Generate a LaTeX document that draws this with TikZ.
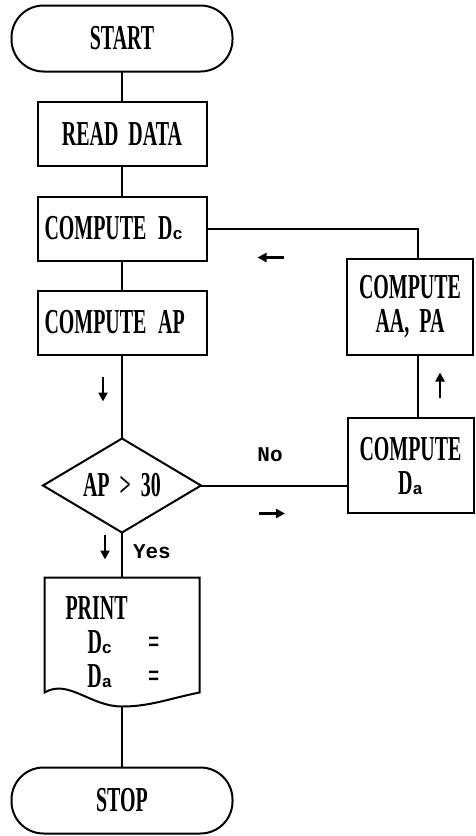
\documentclass[tikz,border=0pt]{standalone}
\usepackage{fontspec}
\newfontfamily\chartfont{Liberation Serif}[FakeStretch=0.57, WordSpace=2]
\newfontfamily\tagfont{Liberation Mono}
\usetikzlibrary{positioning, arrows.meta, calc, shapes.geometric}
\newcommand\boxfont{\chartfont\bfseries\fontsize{35}{34}\selectfont}
\newcommand\lowsub[1]{{\tagfont\bfseries\fontsize{17}{17}\selectfont #1}}

\begin{document}
\begin{tikzpicture}[x=1pt, y=-1pt,
  every node/.style={outer sep=0pt},
  terminal/.style={draw, line width=2pt, rounded corners=32pt, minimum width=221pt,
                   minimum height=66pt, font=\boxfont},
  procbox/.style={draw, line width=2pt, minimum width=169pt, minimum height=64pt, font=\boxfont},
  leftbox/.style={procbox, text width=155pt, inner xsep=7pt, align=left},
  sidebox/.style={draw, line width=2pt, minimum width=126pt, minimum height=96pt,
                  align=center, font=\boxfont},
  decision/.style={draw, line width=2pt, diamond, aspect=1.68, minimum width=158pt,
                   minimum height=94pt, inner sep=0pt, font=\boxfont},
  docbox/.style={minimum width=155pt, minimum height=129pt, inner xsep=21pt,
                 text width=113pt, align=left, font=\boxfont},
  line/.style={line width=2pt},
  flowmark/.style={-{Triangle[length=9pt, width=9pt]}, line width=2.6pt},
  tag/.style={font=\tagfont\bfseries\fontsize{21}{21}\selectfont, inner sep=0pt}
]
  \useasboundingbox (0,0) rectangle (475,836);

  % main column
  \node[terminal] (start) at (122,38.5) {START};
  \node[procbox, below=30pt of start] (read) {READ DATA};
  \node[leftbox, below=31pt of read] (dc) {COMPUTE D\lowsub{c}};
  \node[leftbox, below=30pt of dc] (ap) {COMPUTE AP};
  \node[decision, below=84pt of ap] (cond) {AP > 30};
  \node[docbox, below=45pt of cond] (prt)
    {PRINT\\\hspace*{22pt}D\lowsub{c}\hspace*{36pt}=\\\hspace*{22pt}D\lowsub{a}\hspace*{36pt}=};
  \node[terminal, below=61pt of prt] (stop) {STOP};

  % loop column
  \node[sidebox] (aapa) at (410,306.5) {COMPUTE\\AA, PA};
  \node[sidebox, minimum height=95pt] (da) at (410.5,465.5) {COMPUTE\\D\lowsub{a}};

  % document outline with wavy bottom
  \draw[line] (prt.south) .. controls +(28,0) and +(-30,6) .. ($(prt.south east)+(0,-14)$)
    -- (prt.north east) -- (prt.north west) -- ($(prt.south west)+(0,-14)$)
    .. controls +(24,-14) and +(-32,0) .. (prt.south) -- cycle;

  \draw[line] (start) -- (read);
  \draw[line] (read) -- (dc);
  \draw[line] (dc) -- (ap);
  \draw[line] (ap) -- (cond);
  \draw[line] (cond) -- (prt);
  \draw[line] (prt) -- (stop);
  \draw[line] (cond.east) -- (cond.east -| da.west);
  \coordinate (loopx) at ($(aapa.north)+(8,0)$);
  \draw[line] (da.north -| loopx) -- (aapa.south -| loopx);
  \draw[line] (loopx) |- (dc.east);

  % direction marks
  \path ($(ap.south)+(-19,22)$) coordinate (mkapA) ++(0,25) coordinate (mkapB);
  \path ($(cond.south)+(-17,2)$) coordinate (mkyesA) ++(0,25) coordinate (mkyesB);
  \path ($(dc.east)+(77,29)$) coordinate (mkbackA) ++(-26,0) coordinate (mkbackB);
  \path ($(cond.east)+(58,28)$) coordinate (mknoA) ++(26,0) coordinate (mknoB);
  \path ($(aapa.south)+(30,43)$) coordinate (mkupA) ++(0,-25) coordinate (mkupB);
  \draw[flowmark] (mkapA) -- (mkapB);
  \draw[flowmark] (mkyesA) -- (mkyesB);
  \draw[flowmark] (mkbackA) -- (mkbackB);
  \draw[flowmark] (mknoA) -- (mknoB);
  \draw[flowmark] (mkupA) -- (mkupB);

  \node[tag] (nolbl) at ($(cond.east)+(69,-31)$) {No};
  \node[tag, anchor=west] (yeslbl) at ($(cond.south)+(11,19)$) {Yes};
\end{tikzpicture}
\end{document}
